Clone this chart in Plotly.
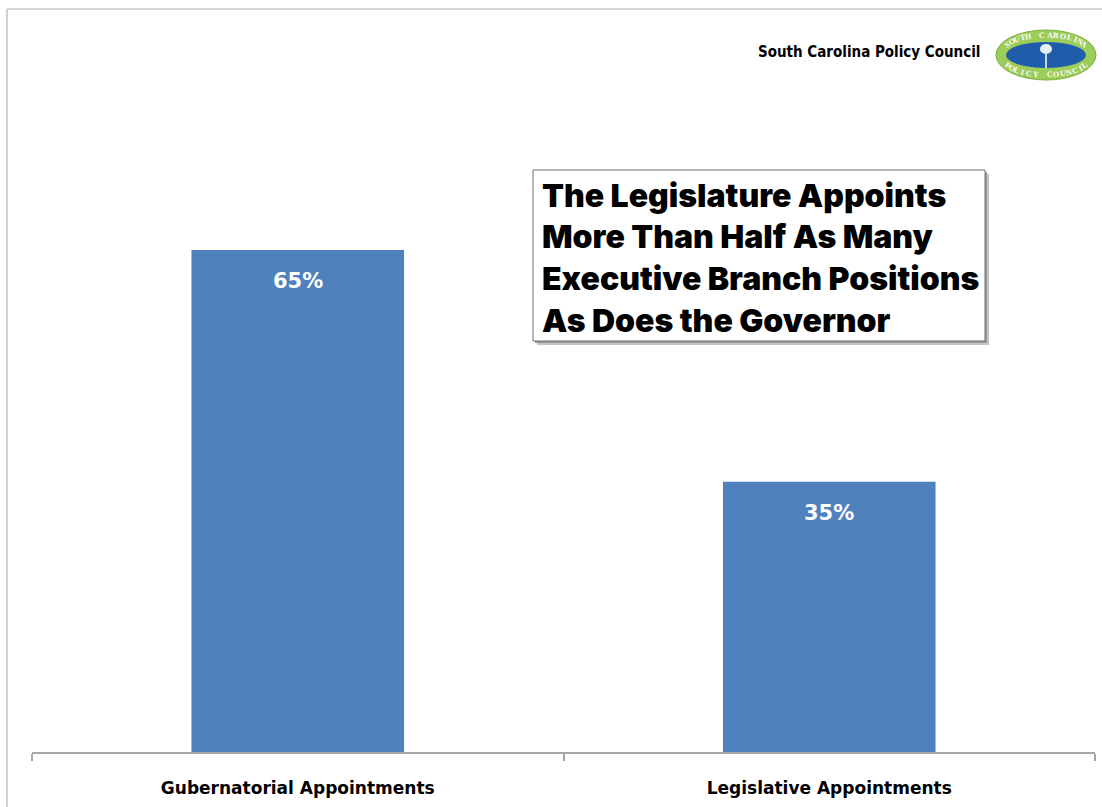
import math
import plotly.graph_objects as go

categories = ["Gubernatorial Appointments", "Legislative Appointments"]
values = [65, 35]
value_labels = ["65%", "35%"]
title_lines = ["The Legislature Appoints", "More Than Half As Many",
               "Executive Branch Positions", "As Does the Governor"]
org_name = "South Carolina Policy Council"
logo_top = "SOUTH CAROLINA"
logo_bottom = "POLICY COUNCIL"

W, H = 1102, 807
ML, MR, MT, MB = 32, 7, 134, 55
PW, PH = W - ML - MR, H - MT - MB


def px(x):
    return (x - ML) / PW


def py(y):
    return (H - MB - y) / PH


BAR = "#4f81bd"
FONT = "DejaVu Sans"

fig = go.Figure()
fig.add_trace(go.Bar(x=categories, y=values, marker=dict(color=BAR, line=dict(width=0)),
                     width=0.4, hoverinfo="skip"))

annotations = []
for c, v, t in zip(categories, values, value_labels):
    annotations.append(dict(x=c, y=v, xref="x", yref="y", text=t, showarrow=False,
                            yshift=-31, yanchor="middle",
                            font=dict(family=FONT, size=21, color="white", weight="bold")))

shapes = []
# slide border (top and left)
shapes.append(dict(type="line", xref="paper", yref="paper", x0=px(7), x1=px(1102), y0=py(9), y1=py(9),
                   line=dict(color="#b0b0b0", width=1.2)))
shapes.append(dict(type="line", xref="paper", yref="paper", x0=px(7), x1=px(7), y0=py(9), y1=py(807),
                   line=dict(color="#b0b0b0", width=1.2)))

# title box with shadow
bx0, bx1, by0, by1 = 533, 985, 170, 341
shapes.append(dict(type="rect", xref="paper", yref="paper", x0=px(bx0 + 4), x1=px(bx1 + 4),
                   y0=py(by0 + 4), y1=py(by1 + 4), fillcolor="#c4c4c4", line=dict(width=0), layer="above"))
shapes.append(dict(type="rect", xref="paper", yref="paper", x0=px(bx0 + 2), x1=px(bx1 + 2),
                   y0=py(by0 + 2), y1=py(by1 + 2), fillcolor="#9a9a9a", line=dict(width=0), layer="above"))
shapes.append(dict(type="rect", xref="paper", yref="paper", x0=px(bx0), x1=px(bx1),
                   y0=py(by0), y1=py(by1), fillcolor="white", line=dict(color="#6e6e6e", width=1), layer="above"))

line_y = [195, 237, 278, 320]
for t, ly in zip(title_lines, line_y):
    annotations.append(dict(x=px(540), y=py(ly), xref="paper", yref="paper", text=t, showarrow=False,
                            xanchor="left", yanchor="middle",
                            font=dict(family="Inter, DejaVu Sans", size=32, color="black", weight=900)))

# organisation name
annotations.append(dict(x=px(982), y=py(52), xref="paper", yref="paper", text=org_name, showarrow=False,
                        xanchor="right", yanchor="middle",
                        font=dict(family="DejaVu Sans Condensed, Liberation Sans",
                                  size=15, color="black", weight="bold")))

# logo
cx, cy = 1046, 55
shapes.append(dict(type="circle", xref="paper", yref="paper", x0=px(cx - 50), x1=px(cx + 50),
                   y0=py(cy - 25), y1=py(cy + 25), fillcolor="#9ccc5a", line=dict(color="#7fb043", width=1),
                   layer="above"))
shapes.append(dict(type="circle", xref="paper", yref="paper", x0=px(cx - 40), x1=px(cx + 40),
                   y0=py(cy - 13), y1=py(cy + 13), fillcolor="#1f5dab", line=dict(width=0), layer="above"))
# palmetto
shapes.append(dict(type="line", xref="paper", yref="paper", x0=px(cx), x1=px(cx), y0=py(cy - 4), y1=py(cy + 13),
                   line=dict(color="white", width=1.5), layer="above"))
shapes.append(dict(type="circle", xref="paper", yref="paper", x0=px(cx - 6), x1=px(cx + 6),
                   y0=py(cy - 11), y1=py(cy - 1), fillcolor="#e8eef8", line=dict(width=0), layer="above"))

rx, ry = 45, 20
n = len(logo_top)
for i, ch in enumerate(logo_top):
    th = math.radians(148 - 116 * i / (n - 1))
    x = cx + rx * math.cos(th)
    y = cy - ry * math.sin(th)
    ang = math.degrees(math.atan2(ry * math.cos(th), rx * math.sin(th)))
    annotations.append(dict(x=px(x), y=py(y), xref="paper", yref="paper", text=ch, showarrow=False,
                            textangle=ang, xanchor="center", yanchor="middle",
                            font=dict(family="Liberation Serif", size=8, color="white", weight="bold")))
n = len(logo_bottom)
for i, ch in enumerate(logo_bottom):
    th = math.radians(212 + 116 * i / (n - 1))
    x = cx + rx * math.cos(th)
    y = cy - ry * math.sin(th)
    ang = math.degrees(math.atan2(-ry * math.cos(th), -rx * math.sin(th)))
    annotations.append(dict(x=px(x), y=py(y), xref="paper", yref="paper", text=ch, showarrow=False,
                            textangle=ang, xanchor="center", yanchor="middle",
                            font=dict(family="Liberation Serif", size=8, color="white", weight="bold")))

fig.update_layout(
    width=W, height=H, autosize=False,
    margin=dict(l=ML, r=MR, t=MT, b=MB, pad=0),
    paper_bgcolor="white", plot_bgcolor="white",
    showlegend=False, bargap=0.6,
    annotations=annotations, shapes=shapes,
    xaxis=dict(range=[-0.5, 1.5], showline=True, linecolor="#a6a6a6", linewidth=1.5,
               ticks="outside", tickson="boundaries", ticklen=7, tickcolor="#a6a6a6", tickwidth=1.5,
               ticklabelstandoff=20, showgrid=False, zeroline=False,
               tickfont=dict(family=FONT, size=17, color="black", weight="bold")),
    yaxis=dict(range=[0, 80], visible=False, showgrid=False, zeroline=False),
)

fig.write_html("out.html")
